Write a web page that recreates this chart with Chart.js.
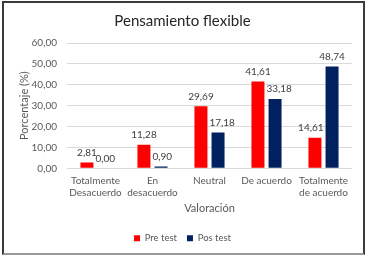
<!DOCTYPE html>
<html>
<head>
<meta charset="utf-8">
<script src="https://cdn.jsdelivr.net/npm/chart.js@4.4.1/dist/chart.umd.min.js"></script>
<style>
  html,body{margin:0;padding:0;background:#fff;}
  #wrap{position:relative;width:369px;height:257px;}
  #frame{position:absolute;left:2px;top:1px;width:359px;height:250px;border:2px solid #3a3a3a;border-bottom-color:#9a9a9a;pointer-events:none;}
</style>
</head>
<body>
<div id="wrap">
  <canvas id="chart" width="369" height="257"></canvas>
  <div id="frame"></div>
</div>
<script>
/* data */
const categories=[['Totalmente','Desacuerdo'],['En','desacuerdo'],'Neutral','De acuerdo',['Totalmente','de acuerdo']];
const preTest=[2.81,11.28,29.69,41.61,14.61];
const posTest=[0.00,0.90,17.18,33.18,48.74];
const yTicks=[0,10,20,30,40,50,60];

const fmt=v=>v.toFixed(2).replace('.',',');
const FONT='Lato';
const GREY='#595959';

/* value labels above the bars, pushed sideways when the neighbour bar is in the way */
const barLabels={
  id:'barLabels',
  afterDatasetsDraw(chart){
    const ctx=chart.ctx;
    ctx.save();
    ctx.font='10px '+FONT;
    ctx.fillStyle='#404040';
    ctx.textAlign='center';
    ctx.textBaseline='middle';
    const metas=[chart.getDatasetMeta(0),chart.getDatasetMeta(1)];
    chart.data.datasets.forEach((ds,i)=>{
      metas[i].data.forEach((bar,j)=>{
        const txt=fmt(ds.data[j]);
        const w=ctx.measureText(txt).width;
        const y=bar.y-10;
        const other=metas[1-i].data[j];
        let x=bar.x;
        if(other.y<y+6){
          const half=other.width/2;
          if(i===1)x=Math.max(x,other.x+half+2+w/2);
          else x=Math.min(x,other.x-half-2-w/2);
        }
        ctx.fillText(txt,x,y);
      });
    });
    ctx.restore();
  }
};

new Chart(document.getElementById('chart'),{
  type:'bar',
  data:{
    labels:categories,
    datasets:[
      {label:'Pre test',data:preTest,backgroundColor:'#ff0000',categoryPercentage:0.6,barPercentage:0.76},
      {label:'Pos test',data:posTest,backgroundColor:'#002060',categoryPercentage:0.6,barPercentage:0.76}
    ]
  },
  options:{
    responsive:false,animation:false,
    layout:{padding:{left:13,right:17,top:4,bottom:4}},
    plugins:{
      title:{display:true,text:'Pensamiento flexible',color:'#262626',
        font:{family:FONT,size:15,weight:'normal'},padding:{top:8,bottom:13}},
      legend:{position:'bottom',
        labels:{color:GREY,font:{family:FONT,size:9.5},boxWidth:6,boxHeight:6,padding:10}},
      tooltip:{enabled:false}
    },
    scales:{
      x:{
        grid:{display:false,drawTicks:false},border:{display:false},
        ticks:{color:GREY,font:{family:FONT,size:10},padding:6,maxRotation:0,autoSkip:false},
        title:{display:true,text:'Valoración',color:GREY,font:{family:FONT,size:11},padding:{top:-2,bottom:8}}
      },
      y:{
        min:0,max:60,
        afterBuildTicks:s=>{s.ticks=yTicks.map(v=>({value:v}));},
        afterFit:s=>{s.width=54;},
        grid:{color:'#d9d9d9',drawTicks:false},border:{display:false},
        ticks:{color:GREY,font:{family:FONT,size:10},padding:10,callback:v=>fmt(v)},
        title:{display:true,text:'Porcentaje (%)',color:GREY,font:{family:FONT,size:11},padding:{top:5,bottom:0}}
      }
    }
  },
  plugins:[barLabels]
});
</script>
</body>
</html>
